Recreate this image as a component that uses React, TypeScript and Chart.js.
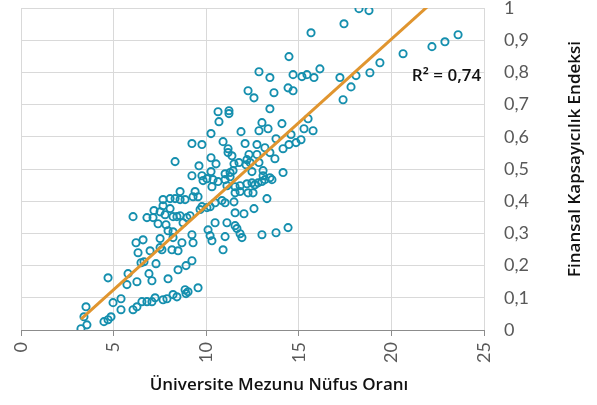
import React, { useEffect, useRef } from 'react';
import { Chart, registerables } from 'chart.js';

Chart.register(...registerables);

// Üniversite mezunu nüfus oranı (x) – Finansal kapsayıcılık endeksi (y)
const graduateRate: number[] = [
  // upper right
  18.25, 18.79, 17.44, 15.66, 14.47, 14.69, 15.17, 15.44, 15.82, 16.14, 17.22, 18.09, 18.84, 19.38, 20.63, 22.19, 22.89, 23.6,
  17.82, 17.39, 14.42, 14.69, 14.09, 15.5, 15.28, 15.77, 14.58, 15.12, 14.85, 14.47, 14.15, 14.15, 14.42, 13.77, 13.01,
  // 12-14 band
  12.85, 13.44, 12.26, 12.58, 13.66, 13.44, 13.01, 12.85, 13.34, 13.77, 12.74, 13.17, 11.88, 12.1, 13.44, 13.71,
  12.31, 12.74, 12.2, 12.47, 13.07, 13.07, 12.47, 12.63, 12.8, 13.01, 13.17, 13.44, 13.55, 13.28, 12.58, 12.04,
  // middle
  10.64, 11.23, 11.23, 10.69, 10.26, 9.23, 9.77, 10.91, 11.18, 10.26, 11.18, 11.39, 8.32, 9.61, 10.53, 11.5,
  11.77, 12.15, 12.37, 12.85, 10.26, 11.02, 11.29, 11.45, 9.23, 9.77, 9.83, 10.04, 10.37, 10.64, 11.02, 11.29,
  11.12, 11.56, 11.83, 12.2, 10.31, 8.59, 9.4, 8.32, 8.05, 7.67, 8.59, 8.86, 9.29, 9.56, 9.77, 10.04,
  10.21, 10.48, 10.85, 11.02, 11.5, 11.56, 11.83, 12.26, 12.53, 7.51, 7.78, 8.21, 8.59, 9.67, 11.56, 10.48,
  11.12, 11.56, 9.23, 10.1, 10.21, 11.02, 11.83, 11.66, 11.93, 10.31, 10.91,
  // lower left
  6.05, 6.8, 7.13, 7.18, 7.67, 8.05, 8.42, 7.4, 7.83, 7.94, 8.21, 8.96, 8.75, 9.13, 9.29, 8.69,
  8.15, 8.48, 7.61, 6.97, 6.21, 6.59, 6.32, 6.48, 6.64, 7.29, 6.91, 7.07, 5.78, 6.26, 5.72, 4.7,
  7.94, 8.48, 8.91, 9.23, 9.56, 8.86, 8.91, 9.02, 8.21, 8.42, 7.67, 7.88, 7.24, 6.8, 7.07, 6.53,
  6.05, 6.26, 5.4, 4.97, 5.4, 4.48, 4.7, 4.86, 3.51, 3.4, 3.56, 3.24, 7.51, 7.51, 8.21,
];

const inclusionIndex: number[] = [
  0.998, 0.992, 0.951, 0.923, 0.849, 0.793, 0.787, 0.793, 0.784, 0.811, 0.784, 0.79, 0.799, 0.83, 0.858, 0.88, 0.895, 0.917,
  0.755, 0.715, 0.752, 0.743, 0.641, 0.656, 0.625, 0.619, 0.607, 0.591, 0.582, 0.576, 0.563, 0.489, 0.318, 0.302, 0.296,
  0.802, 0.784, 0.743, 0.721, 0.737, 0.687, 0.644, 0.619, 0.625, 0.594, 0.576, 0.566, 0.616, 0.579, 0.551, 0.532,
  0.545, 0.545, 0.529, 0.492, 0.495, 0.479, 0.457, 0.451, 0.457, 0.461, 0.467, 0.473, 0.467, 0.408, 0.377, 0.361,
  0.678, 0.681, 0.672, 0.647, 0.61, 0.579, 0.576, 0.585, 0.563, 0.535, 0.551, 0.541, 0.523, 0.51, 0.516, 0.516,
  0.52, 0.513, 0.52, 0.52, 0.492, 0.485, 0.489, 0.495, 0.479, 0.479, 0.464, 0.47, 0.467, 0.461, 0.467, 0.476,
  0.448, 0.445, 0.448, 0.454, 0.445, 0.43, 0.43, 0.408, 0.408, 0.405, 0.405, 0.405, 0.414, 0.414, 0.383, 0.38,
  0.383, 0.395, 0.402, 0.395, 0.398, 0.426, 0.43, 0.426, 0.426, 0.367, 0.358, 0.352, 0.355, 0.374, 0.364, 0.333,
  0.333, 0.324, 0.296, 0.311, 0.293, 0.29, 0.299, 0.315, 0.287, 0.277, 0.249,
  0.352, 0.349, 0.349, 0.371, 0.386, 0.377, 0.352, 0.33, 0.327, 0.308, 0.305, 0.349, 0.333, 0.355, 0.271, 0.271,
  0.249, 0.246, 0.249, 0.246, 0.271, 0.28, 0.24, 0.209, 0.212, 0.206, 0.175, 0.153, 0.175, 0.15, 0.141, 0.162,
  0.159, 0.187, 0.2, 0.215, 0.131, 0.125, 0.113, 0.119, 0.11, 0.103, 0.094, 0.097, 0.1, 0.088, 0.088, 0.088,
  0.063, 0.072, 0.097, 0.085, 0.063, 0.026, 0.032, 0.041, 0.072, 0.041, 0.016, 0.004, 0.284, 0.256, 0.287,
];

// linear trendline end points
const trendX: number[] = [3.24, 23.6];
const trendY: number[] = [0.034, 1.09];

const xTickLabels: string[] = ['0', '5', '10', '15', '20', '25'];
const yTickLabels: string[] = ['0', '0,1', '0,2', '0,3', '0,4', '0,5', '0,6', '0,7', '0,8', '0,9', '1'];

const xTitle = 'Üniversite Mezunu Nüfus Oranı';
const yTitle = 'Finansal Kapsayıcılık Endeksi';
const r2Label = 'R² = 0,74';

const FONT = 'Lato, "Noto Sans", sans-serif';
const TITLE_FONT = '"Open Sans", "Noto Sans", sans-serif';

const textPlugin = {
  id: 'textPlugin',
  afterDraw(chart: any) {
    const ctx = chart.ctx as CanvasRenderingContext2D;
    const xs = chart.scales.x;
    const ys = chart.scales.y;
    ctx.save();
    ctx.fillStyle = '#111111';
    ctx.font = `600 17px ${TITLE_FONT}`;
    ctx.textAlign = 'center';
    ctx.textBaseline = 'middle';
    ctx.fillText(xTitle, 279, 385);
    ctx.save();
    ctx.translate(575, 159);
    ctx.rotate(-Math.PI / 2);
    ctx.fillText(yTitle, 0, 0);
    ctx.restore();
    ctx.textAlign = 'right';
    ctx.fillText(r2Label, xs.getPixelForValue(24.85), ys.getPixelForValue(0.787));
    ctx.restore();
  },
};

export default function App() {
  const canvasRef = useRef<HTMLCanvasElement | null>(null);

  useEffect(() => {
    document.body.style.margin = '0';
    const canvas = canvasRef.current;
    if (!canvas) return;
    const points = graduateRate.map((x, i) => ({ x, y: inclusionIndex[i] }));
    const trend = trendX.map((x, i) => ({ x, y: trendY[i] }));

    const chart = new Chart(canvas, {
      type: 'scatter',
      data: {
        datasets: [
          {
            label: 'Veri',
            data: points,
            pointRadius: 3.6,
            pointBorderWidth: 1.9,
            pointBorderColor: '#158FAE',
            pointBackgroundColor: 'rgba(0,0,0,0)',
            borderColor: '#158FAE',
            backgroundColor: 'rgba(0,0,0,0)',
            pointHoverRadius: 3.6,
            order: 2,
          },
          {
            label: 'Trend',
            data: trend,
            showLine: true,
            borderColor: '#E0952F',
            borderWidth: 3,
            pointRadius: 0,
            pointHoverRadius: 0,
            fill: false,
            order: 1,
          } as any,
        ],
      },
      options: {
        animation: false,
        responsive: true,
        maintainAspectRatio: false,
        layout: { padding: { left: 21, top: 8, right: 0, bottom: 0 } },
        plugins: {
          legend: { display: false },
          tooltip: { enabled: false },
          title: { display: false },
        },
        scales: {
          x: {
            type: 'linear',
            min: 0,
            max: 25,
            ticks: {
              stepSize: 5,
              autoSkip: false,
              maxRotation: 90,
              minRotation: 90,
              padding: 6,
              color: '#595959',
              font: { family: FONT, size: 18 },
              callback: (_v: any, i: number) => xTickLabels[i],
            },
            grid: {
              color: '#D9D9D9',
              lineWidth: 1,
              drawTicks: true,
              tickLength: 6,
              tickColor: '#8C8C8C',
            },
            border: { display: true, color: '#8C8C8C', width: 1 },
            afterFit: (scale: any) => {
              scale.height = 75;
              scale.paddingLeft = 0;
              scale.paddingRight = 0;
            },
          },
          y: {
            type: 'linear',
            position: 'right',
            min: 0,
            max: 1,
            ticks: {
              stepSize: 0.1,
              autoSkip: false,
              padding: 20,
              color: '#595959',
              font: { family: FONT, size: 18 },
              callback: (_v: any, i: number) => yTickLabels[i],
            },
            grid: { color: '#D9D9D9', lineWidth: 1, drawTicks: false },
            border: { display: false },
            afterFit: (scale: any) => {
              scale.width = 113;
              scale.paddingTop = 0;
              scale.paddingBottom = 0;
            },
          },
        },
      },
      plugins: [textPlugin],
    });

    return () => chart.destroy();
  }, []);

  return (
    <div style={{ position: 'fixed', left: 0, top: 0, width: 597, height: 405, background: '#fff' }}>
      <canvas ref={canvasRef} />
    </div>
  );
}
